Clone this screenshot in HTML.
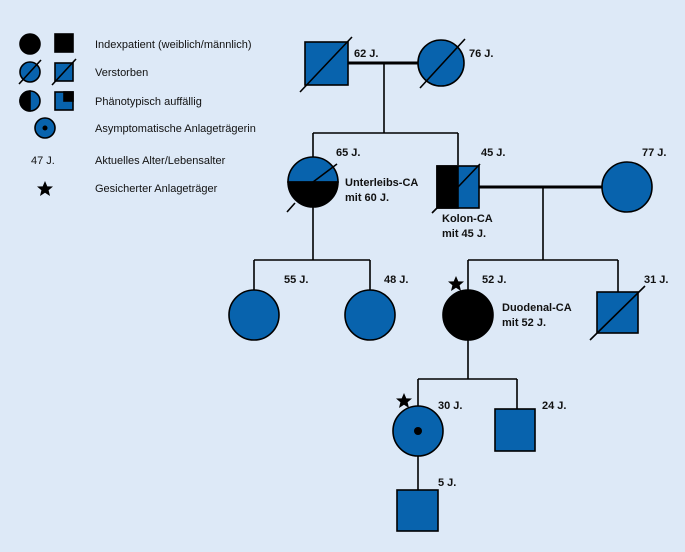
<!DOCTYPE html>
<html><head><meta charset="utf-8"><style>
html,body{margin:0;padding:0;background:#dde9f7;}
svg{display:block}
text{font-family:"Liberation Sans",sans-serif;font-size:11px;fill:#111}
.b{font-weight:bold}
</style></head><body>
<svg width="685" height="552" viewBox="0 0 685 552">
<defs>
<polygon id="st" points="0,-8 2.3,-2.6 8,-2.5 3.6,1.2 5,7 0,3.8 -5,7 -3.6,1.2 -8,-2.5 -2.3,-2.6" fill="#000"/>
</defs>
<rect width="685" height="552" fill="#dde9f7"/>
<g stroke="#000" stroke-width="1.6" fill="#0863ad">
<circle cx="30" cy="44" r="10" fill="#000"/>
<rect x="55" y="34" width="18" height="18" fill="#000"/>
<circle cx="30" cy="72" r="10"/>
<line x1="19" y1="84" x2="41" y2="60"/>
<rect x="55" y="63" width="18" height="18"/>
<line x1="52" y1="85" x2="76" y2="59"/>
<circle cx="30" cy="101" r="10"/>
<path d="M30 91 A10 10 0 0 0 30 111 Z" fill="#000"/>
<rect x="55" y="92" width="18" height="18"/>
<rect x="64" y="92" width="9" height="9" fill="#000"/>
<circle cx="45" cy="128" r="10"/>
<circle cx="45" cy="128" r="2.5" fill="#000" stroke="none"/>
</g>
<text x="95" y="48">Indexpatient (weiblich/männlich)</text>
<text x="95" y="76">Verstorben</text>
<text x="95" y="105">Phänotypisch auffällig</text>
<text x="95" y="132">Asymptomatische Anlageträgerin</text>
<text x="31" y="164">47 J.</text>
<text x="95" y="164">Aktuelles Alter/Lebensalter</text>
<text x="95" y="192">Gesicherter Anlageträger</text>
<use href="#st" x="45" y="189"/>

<g stroke="#000" stroke-width="1.6" fill="none">
<line x1="348" y1="63" x2="418" y2="63" stroke-width="3"/>
<line x1="384" y1="63" x2="384" y2="133"/>
<line x1="313" y1="133" x2="458" y2="133"/>
<line x1="313" y1="133" x2="313" y2="157"/>
<line x1="458" y1="133" x2="458" y2="165"/>
<line x1="479" y1="187" x2="602" y2="187" stroke-width="3"/>
<line x1="543" y1="187" x2="543" y2="260"/>
<line x1="468" y1="260" x2="618" y2="260"/>
<line x1="468" y1="260" x2="468" y2="290"/>
<line x1="618" y1="260" x2="618" y2="292"/>
<line x1="313" y1="207" x2="313" y2="260"/>
<line x1="254" y1="260" x2="370" y2="260"/>
<line x1="254" y1="260" x2="254" y2="290"/>
<line x1="370" y1="260" x2="370" y2="290"/>
<line x1="468" y1="340" x2="468" y2="379"/>
<line x1="418" y1="379" x2="517" y2="379"/>
<line x1="418" y1="379" x2="418" y2="406"/>
<line x1="517" y1="379" x2="517" y2="409"/>
<line x1="418" y1="456" x2="418" y2="490"/>
</g>
<g stroke="#000" stroke-width="1.6" fill="#0863ad">
<rect x="305" y="42" width="43" height="43"/>
<line x1="300" y1="92" x2="352" y2="37"/>
<circle cx="441" cy="63" r="23"/>
<line x1="420" y1="88" x2="465" y2="39"/>
<path d="M288 182 A25 25 0 0 1 338 182 Z"/>
<path d="M288 182 A25 25 0 0 0 338 182 Z" fill="#000"/>
<line x1="287" y1="212" x2="295" y2="203"/>
<line x1="313" y1="182" x2="337" y2="164"/>
<rect x="437" y="166" width="42" height="42"/>
<rect x="437" y="166" width="21" height="42" fill="#000"/>
<line x1="432" y1="213" x2="437" y2="208"/>
<line x1="458" y1="187" x2="480" y2="164"/>
<circle cx="627" cy="187" r="25"/>
<circle cx="254" cy="315" r="25"/>
<circle cx="370" cy="315" r="25"/>
<circle cx="468" cy="315" r="25" fill="#000"/>
<rect x="597" y="292" width="41" height="41"/>
<line x1="590" y1="340" x2="645" y2="286"/>
<circle cx="418" cy="431" r="25"/>
<circle cx="418" cy="431" r="4" fill="#000" stroke="none"/>
<rect x="495" y="409" width="40" height="42"/>
<rect x="397" y="490" width="41" height="41"/>
</g>
<text class="b" x="354" y="57">62 J.</text>
<text class="b" x="469" y="57">76 J.</text>
<text class="b" x="336" y="156">65 J.</text>
<text class="b" x="345" y="186">Unterleibs-CA</text>
<text class="b" x="345" y="201">mit 60 J.</text>
<text class="b" x="481" y="156">45 J.</text>
<text class="b" x="442" y="222">Kolon-CA</text>
<text class="b" x="442" y="237">mit 45 J.</text>
<text class="b" x="642" y="156">77 J.</text>
<text class="b" x="284" y="283">55 J.</text>
<text class="b" x="384" y="283">48 J.</text>
<text class="b" x="482" y="283">52 J.</text>
<text class="b" x="502" y="311">Duodenal-CA</text>
<text class="b" x="502" y="326">mit 52 J.</text>
<text class="b" x="644" y="283">31 J.</text>
<text class="b" x="438" y="409">30 J.</text>
<text class="b" x="542" y="409">24 J.</text>
<text class="b" x="438" y="486">5 J.</text>
<use href="#st" x="456" y="284"/>
<use href="#st" x="404" y="401"/>
</svg>
</body></html>
